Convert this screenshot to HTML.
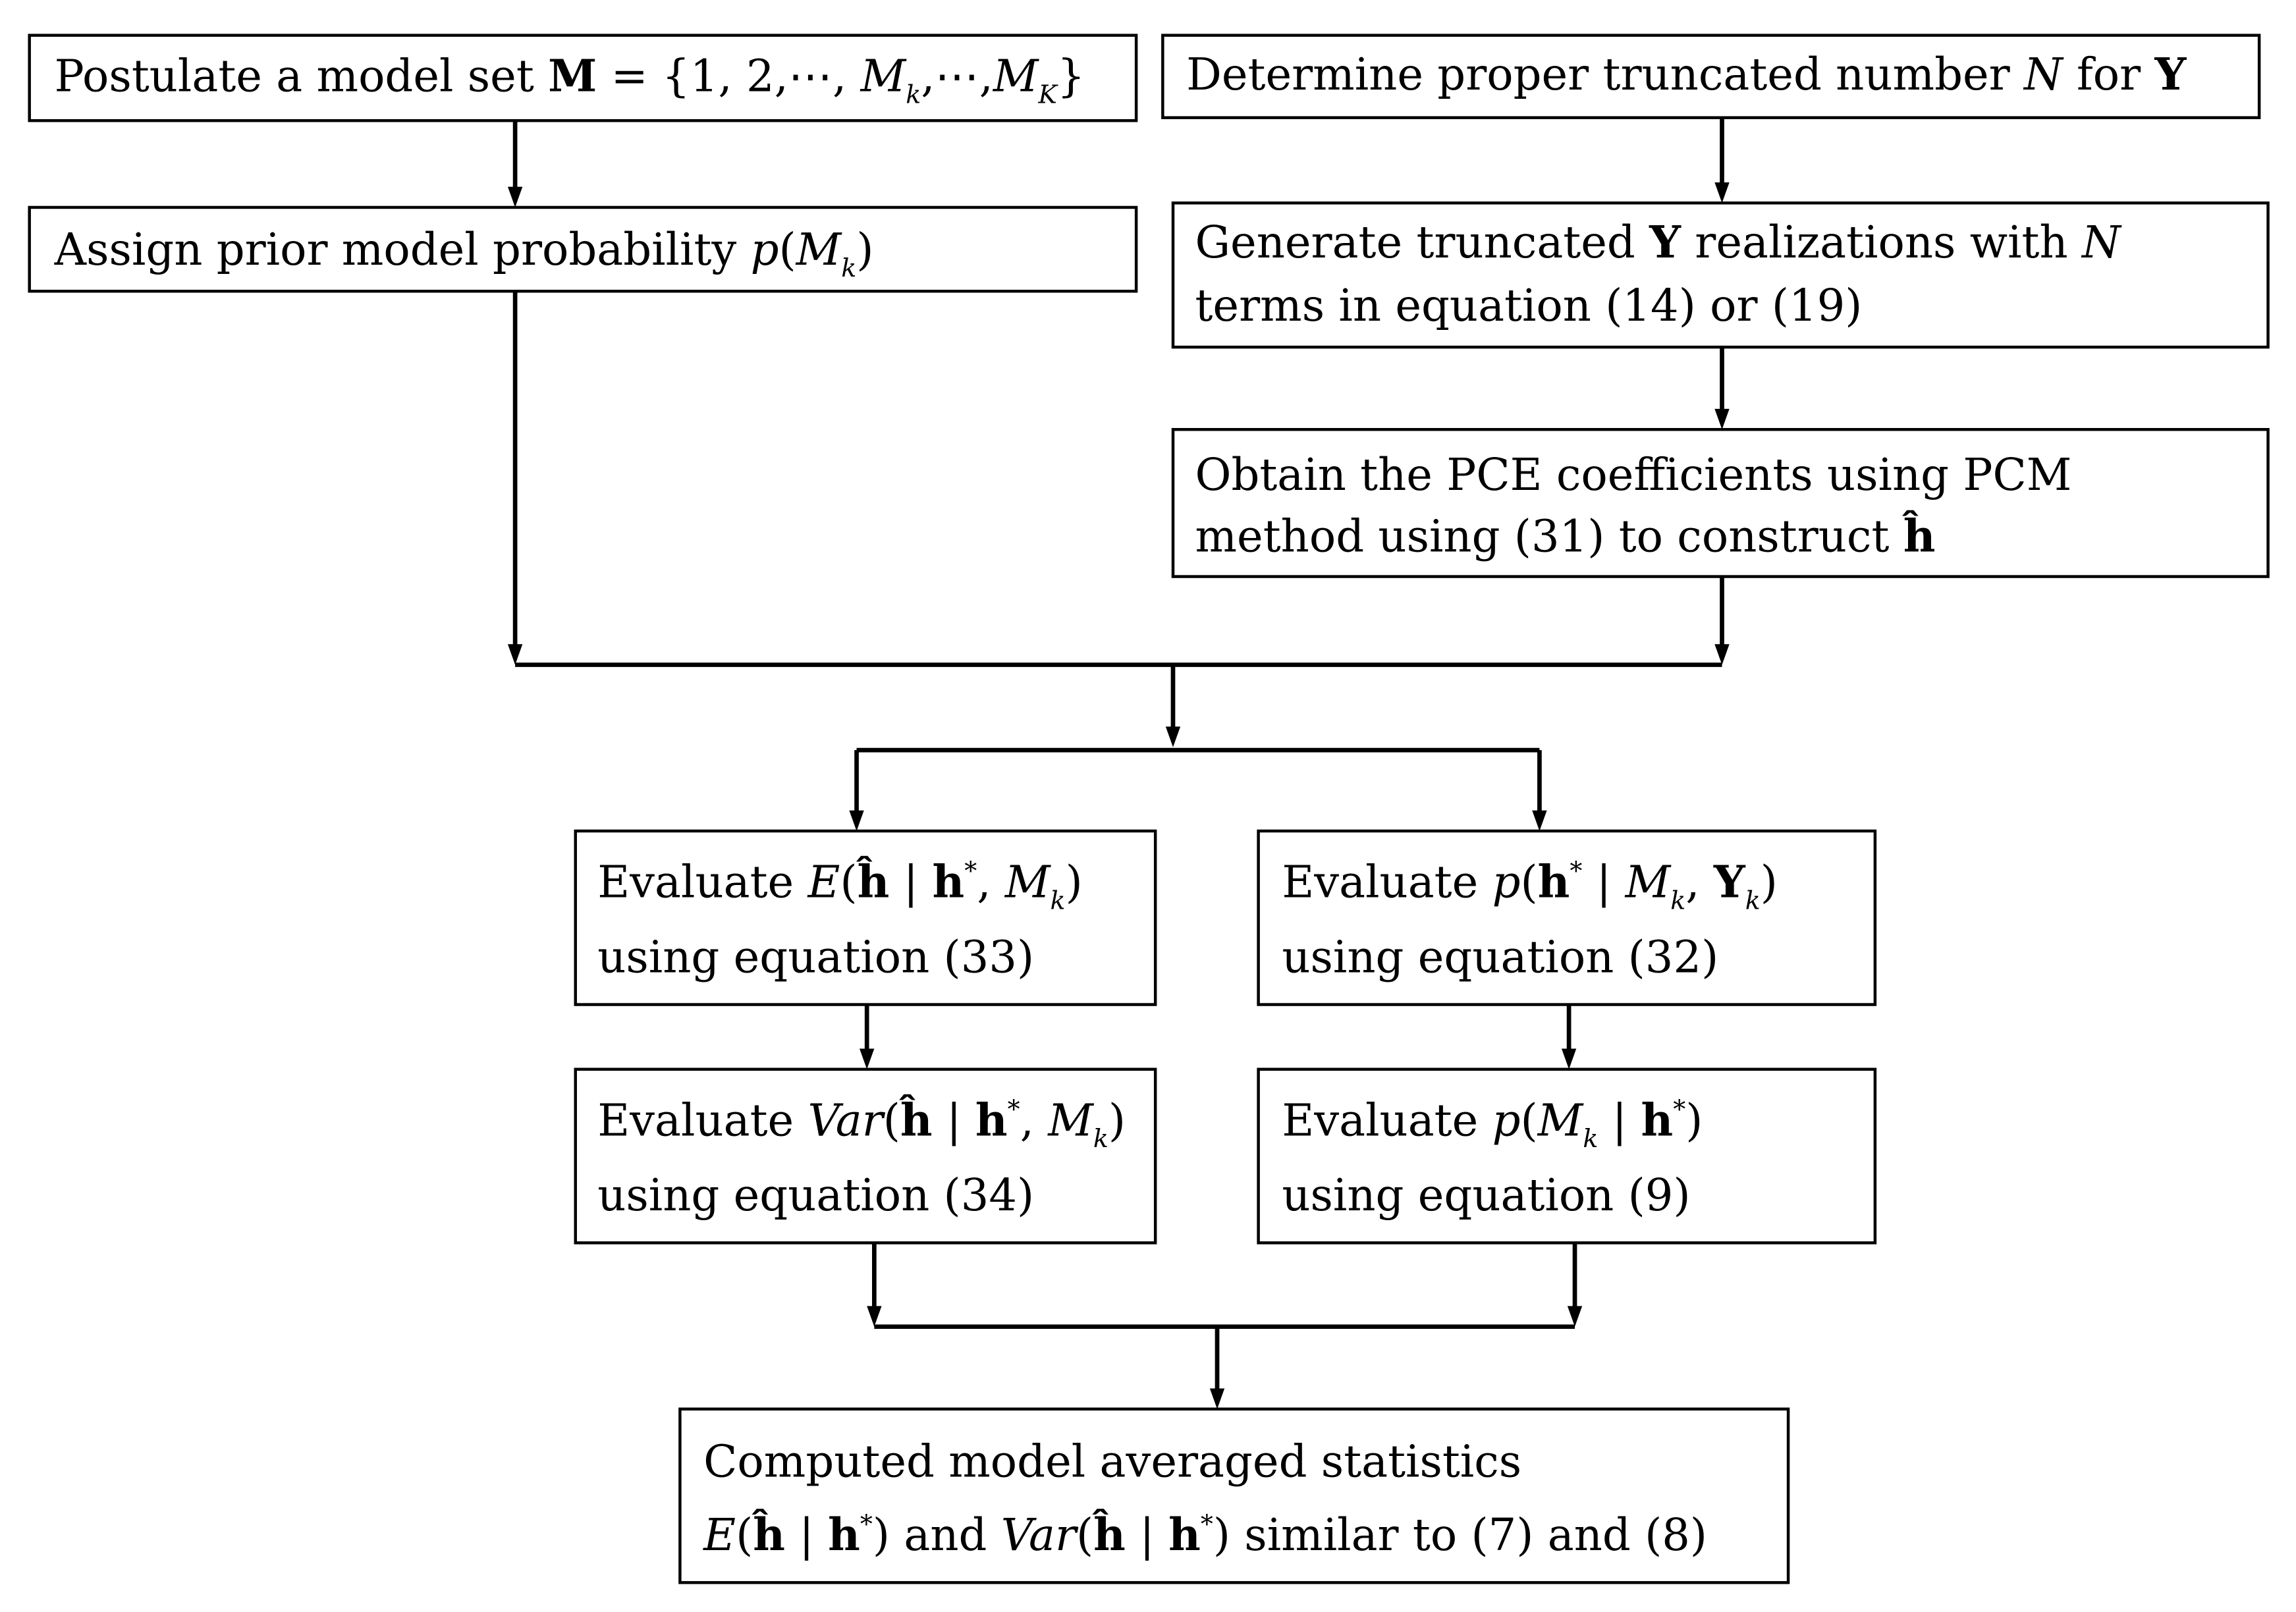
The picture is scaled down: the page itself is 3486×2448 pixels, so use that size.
<!DOCTYPE html>
<html><head><meta charset="utf-8"><style>
html,body{margin:0;padding:0;background:#fff;}
svg{display:block;}
text{font-family:"DejaVu Serif","Liberation Serif",serif;font-size:30px;fill:#000;}
.b{font-weight:bold;}
.i{font-style:italic;}
</style></head><body>
<svg width="3486" height="2448" viewBox="0 0 1560 1096" preserveAspectRatio="none" xmlns="http://www.w3.org/2000/svg">
<g fill="none" stroke="#000" stroke-width="2">
<rect x="20" y="24" width="752" height="58"/>
<rect x="790" y="24" width="745" height="56"/>
<rect x="20" y="141" width="752" height="57"/>
<rect x="797" y="138" width="744" height="98"/>
<rect x="797" y="292" width="744" height="100"/>
<rect x="391" y="565" width="394" height="118"/>
<rect x="855" y="565" width="419" height="118"/>
<rect x="391" y="727" width="394" height="118"/>
<rect x="855" y="727" width="419" height="118"/>
<rect x="462" y="958" width="753" height="118"/>
</g>
<g fill="none" stroke="#000" stroke-width="3">
<path d="M350 82V130"/>
<path d="M1170 80V128"/>
<path d="M350 198V442"/>
<path d="M1170 236V282"/>
<path d="M1170 392V442"/>
<path d="M350 452H1170"/>
<path d="M797 452V498"/>
<path d="M582 510H1046"/>
<path d="M582 510V555"/>
<path d="M1046 510V555"/>
<path d="M589 683V717"/>
<path d="M1066 683V717"/>
<path d="M594 845V892"/>
<path d="M1070 845V892"/>
<path d="M594 902H1070"/>
<path d="M827 902V948"/>
</g>
<g fill="#000">
<path d="M345 127H355L350 141Z"/>
<path d="M1165 124H1175L1170 138Z"/>
<path d="M345 438H355L350 452Z"/>
<path d="M1165 278H1175L1170 292Z"/>
<path d="M1165 438H1175L1170 452Z"/>
<path d="M792 494H802L797 508Z"/>
<path d="M577 551H587L582 565Z"/>
<path d="M1041 551H1051L1046 565Z"/>
<path d="M584 713H594L589 727Z"/>
<path d="M1061 713H1071L1066 727Z"/>
<path d="M589 888H599L594 902Z"/>
<path d="M1065 888H1075L1070 902Z"/>
<path d="M822 944H832L827 958Z"/>
</g>
<text x="37" y="62">Postulate a model set  <tspan class="b">M</tspan> = {1, 2,⋯, <tspan class="i">M</tspan><tspan class="i" font-size="17" dy="8">k</tspan><tspan dy="-8">,⋯,</tspan><tspan class="i">M</tspan><tspan class="i" font-size="17" dy="8">K</tspan><tspan dy="-8">}</tspan></text>
<text x="806" y="61">Determine proper truncated number <tspan class="i">N</tspan> for <tspan class="b">Y</tspan></text>
<text x="37" y="180">Assign prior model probability  <tspan class="i">p</tspan>(<tspan class="i">M</tspan><tspan class="i" font-size="17" dy="8">k</tspan><tspan dy="-8">)</tspan></text>
<text x="812" y="175">Generate truncated <tspan class="b">Y</tspan> realizations with <tspan class="i">N</tspan></text>
<text x="812" y="218">terms in equation (14) or (19)</text>
<text x="812" y="333">Obtain the PCE coefficients using PCM</text>
<text x="812" y="375">method using (31) to construct <tspan class="b">ĥ</tspan></text>
<text x="406" y="610">Evaluate  <tspan class="i">E</tspan>(<tspan class="b">ĥ</tspan> | <tspan class="b">h</tspan><tspan font-size="17" dy="-12">*</tspan><tspan dy="12">, </tspan><tspan class="i">M</tspan><tspan class="i" font-size="17" dy="8">k</tspan><tspan dy="-8">)</tspan></text>
<text x="406" y="661">using equation (33)</text>
<text x="871" y="610">Evaluate   <tspan class="i">p</tspan>(<tspan class="b">h</tspan><tspan font-size="17" dy="-12">*</tspan><tspan dy="12"> | </tspan><tspan class="i">M</tspan><tspan class="i" font-size="17" dy="8">k</tspan><tspan dy="-8">, </tspan><tspan class="b">Y</tspan><tspan class="i" font-size="17" dy="8">k</tspan><tspan dy="-8">)</tspan></text>
<text x="871" y="661">using equation (32)</text>
<text x="406" y="772">Evaluate  <tspan class="i">Var</tspan>(<tspan class="b">ĥ</tspan> | <tspan class="b">h</tspan><tspan font-size="17" dy="-12">*</tspan><tspan dy="12">, </tspan><tspan class="i">M</tspan><tspan class="i" font-size="17" dy="8">k</tspan><tspan dy="-8">)</tspan></text>
<text x="406" y="823">using equation (34)</text>
<text x="871" y="772">Evaluate    <tspan class="i">p</tspan>(<tspan class="i">M</tspan><tspan class="i" font-size="17" dy="8">k</tspan><tspan dy="-8"> | </tspan><tspan class="b">h</tspan><tspan font-size="17" dy="-12">*</tspan><tspan dy="12">)</tspan></text>
<text x="871" y="823">using equation (9)</text>
<text x="478" y="1004">Computed model averaged statistics</text>
<text x="478" y="1054"><tspan class="i">E</tspan>(<tspan class="b">ĥ</tspan> | <tspan class="b">h</tspan><tspan font-size="17" dy="-12">*</tspan><tspan dy="12">)  and  </tspan><tspan class="i">Var</tspan>(<tspan class="b">ĥ</tspan> | <tspan class="b">h</tspan><tspan font-size="17" dy="-12">*</tspan><tspan dy="12">)  similar to (7) and (8)</tspan></text>
</svg>
</body></html>
